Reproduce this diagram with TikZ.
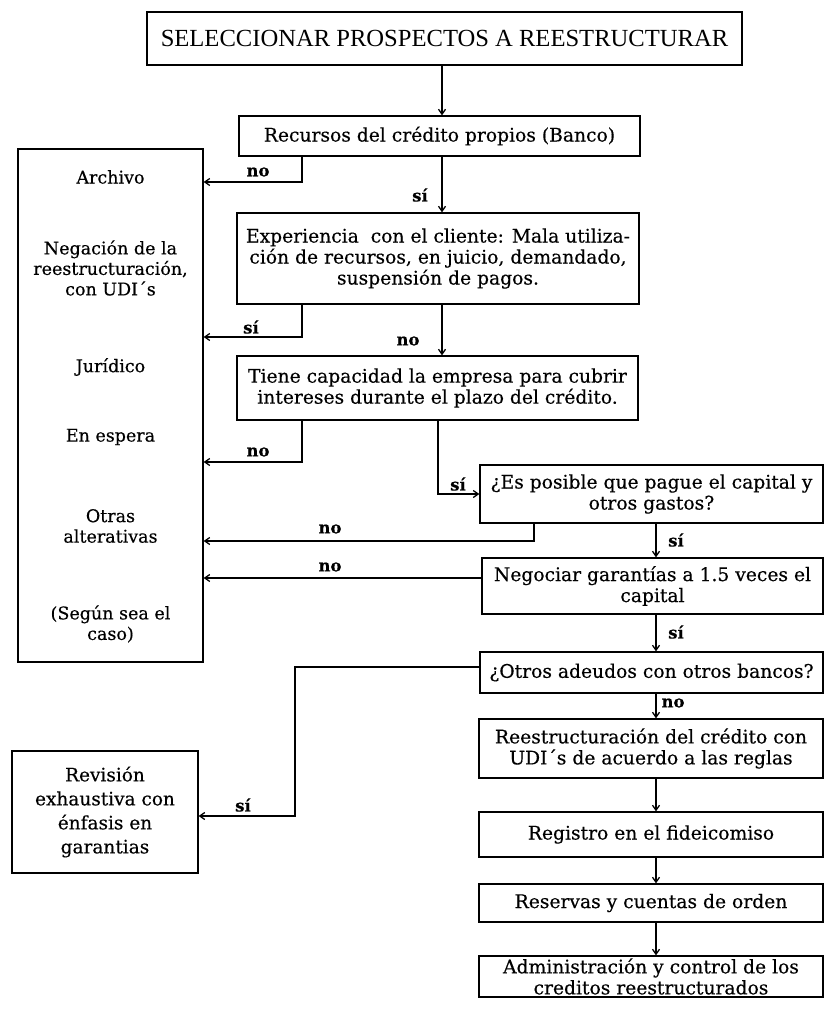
\documentclass[tikz,border=0pt]{standalone}
\usepackage{fontspec}
\usetikzlibrary{arrows.meta}
\newfontfamily\topf{Liberation Serif}
\newfontfamily\bxf[FakeBold=0.4]{DejaVu Serif}
\begin{document}
\begin{tikzpicture}[x=1pt,y=-1pt,
  box/.style={draw, line width=1.3pt, align=center, inner sep=0pt, font=\bxf\fontsize{18.7}{21}\selectfont},
  txt/.style={align=center, inner sep=0pt, font=\bxf\fontsize{17.5}{20.5}\selectfont},
  lbl/.style={inner sep=0pt, font=\bxf\bfseries\fontsize{16.5}{18}\selectfont},
  arr/.style={-{Straight Barb[length=5pt,width=7pt]}, line width=1.3pt}]
\useasboundingbox (0,0) rectangle (827,1011);
% columns and rows
\coordinate (xA) at (442,0);
\coordinate (xB) at (302,0);
\coordinate (xC) at (438,0);
\coordinate (xD) at (534,0);
\coordinate (xE) at (656,0);
\coordinate (xF) at (295,0);
\coordinate (y1) at (0,182);
\coordinate (y2) at (0,337);
\coordinate (y3) at (0,462);
\coordinate (y5) at (0,541);
\coordinate (y6) at (0,578);
\coordinate (y7) at (0,667);
\coordinate (y8) at (0,816);
% boxes
\node[box, minimum width=595pt, minimum height=53pt, font=\topf\fontsize{24.6}{28}\selectfont] (top) at (444.5,38.5) {SELECCIONAR PROSPECTOS A REESTRUCTURAR};
\node[box, minimum width=401pt, minimum height=40pt] (rec) at (439.5,136) {Recursos del crédito propios (Banco)};
\node[box, minimum width=402pt, minimum height=91pt] (exp) at (438,258.5) {Experiencia\ \ con el cliente: Mala utiliza-\\ción de recursos, en juicio, demandado,\\suspensión de pagos.};
\node[box, minimum width=401pt, minimum height=64pt] (tie) at (437.5,388) {Tiene capacidad la empresa para cubrir\\intereses durante el plazo del crédito.};
\node[box, minimum width=343pt, minimum height=58pt] (pos) at (651.5,494) {¿Es posible que pague el capital y\\otros gastos?};
\node[box, minimum width=341pt, minimum height=56pt] (neg) at (652.5,586) {Negociar garantías a 1.5 veces el\\capital};
\node[box, minimum width=343pt, minimum height=41pt] (otr) at (651.5,672.5) {¿Otros adeudos con otros bancos?};
\node[box, minimum width=344pt, minimum height=59pt] (ree) at (651,748.5) {Reestructuración del crédito con\\UDI´s de acuerdo a las reglas};
\node[box, minimum width=344pt, minimum height=45pt] (reg) at (651,834.5) {Registro en el fideicomiso};
\node[box, minimum width=344pt, minimum height=38pt] (res) at (651,903) {Reservas y cuentas de orden};
\node[box, minimum width=344pt, minimum height=41pt] (adm) at (651,976.5) {Administración y control de los\\creditos reestructurados};
\node[box, minimum width=185pt, minimum height=513pt] (izq) at (110.5,405.5) {};
\node[box, minimum width=186pt, minimum height=122pt, font=\bxf\fontsize{18.5}{24}\selectfont] (rev) at (105,812) {Revisión\\exhaustiva con\\énfasis en\\garantias};
% texts of the left box
\node[txt] (t1) at (110.5,177) {Archivo};
\node[txt] (t2) at (110.5,268) {Negación de la\\reestructuración,\\con UDI´s};
\node[txt] (t3) at (110.5,367) {Jurídico};
\node[txt] (t4) at (110.5,437) {En espera};
\node[txt] (t5) at (110.5,526) {Otras\\alterativas};
\node[txt] (t6) at (110.5,624) {(Según sea el\\caso)};
% connectors
\draw[arr] (top.south -| xA) -- (rec.north -| xA);
\draw[arr] (rec.south -| xA) -- (exp.north -| xA);
\draw[arr] (rec.south -| xB) |- (izq.east |- y1);
\draw[arr] (exp.south -| xA) -- (tie.north -| xA);
\draw[arr] (exp.south -| xB) |- (izq.east |- y2);
\draw[arr] (tie.south -| xB) |- (izq.east |- y3);
\draw[arr] (tie.south -| xC) |- (pos.west);
\draw[arr] (pos.south -| xD) |- (izq.east |- y5);
\draw[arr] (pos.south -| xE) -- (neg.north -| xE);
\draw[arr] (neg.west |- y6) -- (izq.east |- y6);
\draw[arr] (neg.south -| xE) -- (otr.north -| xE);
\draw[arr] (otr.west |- y7) -- (xF |- y7) |- (rev.east |- y8);
\draw[arr] (otr.south -| xE) -- (ree.north -| xE);
\draw[arr] (ree.south -| xE) -- (reg.north -| xE);
\draw[arr] (reg.south -| xE) -- (res.north -| xE);
\draw[arr] (res.south -| xE) -- (adm.north -| xE);
% labels
\node[lbl] (l1) at (258,172) {no};
\node[lbl] (l2) at (420,195) {sí};
\node[lbl] (l3) at (251,327) {sí};
\node[lbl] (l4) at (408,341) {no};
\node[lbl] (l5) at (258,452) {no};
\node[lbl] (l6) at (458,484) {sí};
\node[lbl] (l7) at (330,529) {no};
\node[lbl] (l8) at (676,540) {sí};
\node[lbl] (l9) at (330,567) {no};
\node[lbl] (l10) at (676,632) {sí};
\node[lbl] (l11) at (243,805) {sí};
\node[lbl] (l12) at (673,703) {no};
\end{tikzpicture}
\end{document}
